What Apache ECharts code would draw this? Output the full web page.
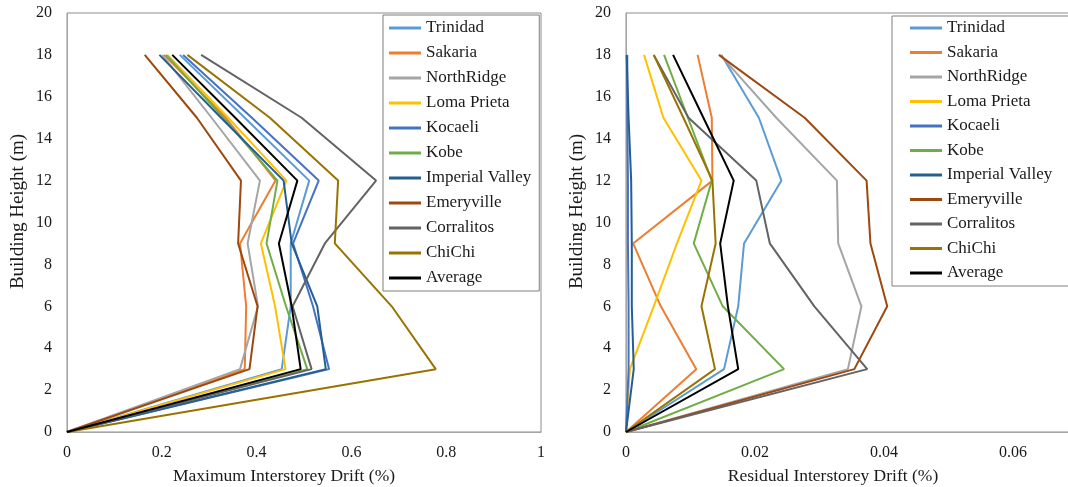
<!DOCTYPE html>
<html>
<head>
<meta charset="utf-8">
<script src="https://cdn.jsdelivr.net/npm/echarts@6/dist/echarts.min.js"></script>
<style>
  html, body { margin: 0; padding: 0; background: #ffffff; overflow: hidden; }
  #frame { width: 1068px; height: 487px; overflow: hidden; }
  /* the residual panel runs on past the right edge of the frame */
  #chart { width: 1143px; height: 487px; }
</style>
</head>
<body>
<div id="frame"><div id="chart"></div></div>
<script>
// Storey heights (m) at which drifts are reported
const heights = [0, 3, 6, 9, 12, 15, 18];

const recordNames = ['Trinidad', 'Sakaria', 'NorthRidge', 'Loma Prieta', 'Kocaeli', 'Kobe',
  'Imperial Valley', 'Emeryville', 'Corralitos', 'ChiChi', 'Average'];

// Maximum interstorey drift (%) per record, listed bottom to top
const maxTrinidad   = [0, 0.453, 0.472, 0.472, 0.511, 0.375, 0.238];
const maxSakaria    = [0, 0.375, 0.378, 0.365, 0.440, 0.335, 0.205];
const maxNorthRidge = [0, 0.365, 0.403, 0.381, 0.407, 0.305, 0.201];
const maxLomaPrieta = [0, 0.461, 0.439, 0.409, 0.463, 0.340, 0.212];
const maxKocaeli    = [0, 0.553, 0.519, 0.477, 0.531, 0.390, 0.245];
const maxKobe       = [0, 0.507, 0.462, 0.421, 0.444, 0.330, 0.209];
const maxImperial   = [0, 0.546, 0.528, 0.474, 0.457, 0.325, 0.195];
const maxEmeryville = [0, 0.385, 0.402, 0.361, 0.367, 0.274, 0.164];
const maxCorralitos = [0, 0.516, 0.476, 0.544, 0.652, 0.495, 0.283];
const maxChiChi     = [0, 0.778, 0.685, 0.565, 0.572, 0.428, 0.254];
const maxAverage    = [0, 0.493, 0.474, 0.447, 0.486, 0.355, 0.222];

// Residual interstorey drift (%) per record, listed bottom to top
const resTrinidad   = [0, 0.0152, 0.0174, 0.0183, 0.0241, 0.0206, 0.0148];
const resSakaria    = [0, 0.0109, 0.0054, 0.0011, 0.0134, 0.0133, 0.0111];
const resNorthRidge = [0, 0.0344, 0.0365, 0.0329, 0.0327, 0.0233, 0.0146];
const resLomaPrieta = [0, 0.0006, 0.0043, 0.0079, 0.0117, 0.0058, 0.0028];
const resKocaeli    = [0, 0.0004, 0.0004, 0.0003, 0.0003, 0.0002, 0.0002];
const resKobe       = [0, 0.0245, 0.0150, 0.0105, 0.0133, 0.0096, 0.0059];
const resImperial   = [0, 0.0012, 0.0009, 0.0009, 0.0008, 0.0004, 0.0001];
const resEmeryville = [0, 0.0354, 0.0405, 0.0379, 0.0373, 0.0277, 0.0144];
const resCorralitos = [0, 0.0374, 0.0292, 0.0223, 0.0202, 0.0097, 0.0043];
const resChiChi     = [0, 0.0138, 0.0117, 0.0139, 0.0134, 0.0089, 0.0043];
const resAverage    = [0, 0.0174, 0.0158, 0.0146, 0.0167, 0.0120, 0.0073];

// Axis tick settings
const maxDriftTicks = { min: 0, max: 1, interval: 0.2 };
const resDriftTicks = { min: 0, max: 0.08, interval: 0.02 };
const heightTicks   = { min: 0, max: 20, interval: 2 };

const maxSets = [maxTrinidad, maxSakaria, maxNorthRidge, maxLomaPrieta, maxKocaeli, maxKobe,
  maxImperial, maxEmeryville, maxCorralitos, maxChiChi, maxAverage];
const resSets = [resTrinidad, resSakaria, resNorthRidge, resLomaPrieta, resKocaeli, resKobe,
  resImperial, resEmeryville, resCorralitos, resChiChi, resAverage];

const palette = ['#5B9BD5', '#ED7D31', '#A5A5A5', '#FFC000', '#4472C4', '#70AD47',
  '#255E91', '#9E480E', '#636363', '#997300', '#000000'];

const FONT = '"Liberation Serif", "Times New Roman", serif';
const TEXT = '#1a1a1a';

function makeSeries(sets, axisIndex) {
  return sets.map((vals, i) => ({
    name: recordNames[i],
    type: 'line',
    xAxisIndex: axisIndex,
    yAxisIndex: axisIndex,
    data: heights.map((h, k) => [vals[k], h]),
    showSymbol: false,
    symbol: 'none',
    lineStyle: { width: 2, color: palette[i] },
    itemStyle: { color: palette[i] },
    emphasis: { disabled: true },
    animation: false
  }));
}

// titleShift: extra right padding that nudges the centred title to the left
function xAxisDef(ticks, gridIndex, title, titleShift) {
  return {
    type: 'value', gridIndex, min: ticks.min, max: ticks.max, interval: ticks.interval,
    name: title, nameLocation: 'middle', nameGap: 35,
    nameTextStyle: { fontFamily: FONT, fontSize: 17.5, color: TEXT, padding: [0, titleShift, 0, 0] },
    axisLine: { show: true, lineStyle: { color: '#a6a6a6', width: 1 } },
    axisTick: { show: false },
    splitLine: { show: false },
    axisLabel: { fontFamily: FONT, fontSize: 16, color: TEXT, margin: 13,
      formatter: v => String(parseFloat(v.toFixed(4))) }
  };
}

function yAxisDef(gridIndex) {
  return {
    type: 'value', gridIndex, min: heightTicks.min, max: heightTicks.max, interval: heightTicks.interval,
    name: 'Building Height (m)', nameLocation: 'middle', nameGap: 39, nameRotate: 90,
    nameTextStyle: { fontFamily: FONT, fontSize: 19, color: TEXT, padding: [0, 0, 0, 22] },
    axisLine: { show: true, lineStyle: { color: '#a6a6a6', width: 1 } },
    axisTick: { show: false },
    splitLine: { show: false },
    axisLabel: { fontFamily: FONT, fontSize: 16, color: TEXT, margin: 15 }
  };
}

function legendDef(left, top, padding, gap) {
  return {
    data: recordNames,
    orient: 'vertical',
    left, top,
    padding,
    itemGap: gap,
    itemWidth: 32,
    itemHeight: 3,
    icon: 'rect',
    itemStyle: { borderWidth: 0 },
    borderColor: '#7f7f7f',
    borderWidth: 1,
    backgroundColor: '#ffffff',
    selectedMode: false,
    textStyle: { fontFamily: FONT, fontSize: 17, color: TEXT, lineHeight: 18 }
  };
}

const chart = echarts.init(document.getElementById('chart'), null, { renderer: 'canvas' });
chart.setOption({
  backgroundColor: '#ffffff',
  animation: false,
  grid: [
    { left: 67, top: 13, width: 474, height: 419, outerBoundsMode: 'none', containLabel: false,
      show: true, borderColor: '#8c8c8c', borderWidth: 1, backgroundColor: 'transparent' },
    { left: 626, top: 13, width: 516, height: 419, outerBoundsMode: 'none', containLabel: false,
      show: true, borderColor: '#8c8c8c', borderWidth: 1, backgroundColor: 'transparent' }
  ],
  xAxis: [
    xAxisDef(maxDriftTicks, 0, 'Maximum Interstorey Drift (%)', 40),
    xAxisDef(resDriftTicks, 1, 'Residual Interstorey Drift (%)', 102)
  ],
  yAxis: [yAxisDef(0), yAxisDef(1)],
  legend: [
    legendDef(383, 15, [4, 8, 4, 6], 7),
    legendDef(892, 16, [3, 60, 4, 18], 6.5)
  ],
  series: makeSeries(maxSets, 0).concat(makeSeries(resSets, 1))
});
</script>
</body>
</html>
